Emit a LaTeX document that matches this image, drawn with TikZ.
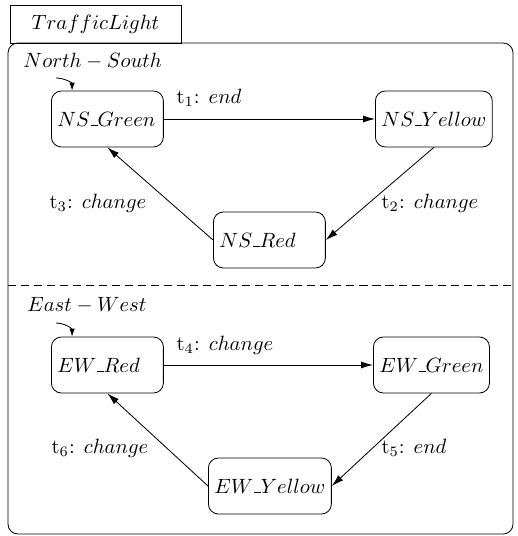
\documentclass[tikz,border=0pt]{standalone}
\usetikzlibrary{arrows.meta}
\newcommand{\us}{\kern.06em\vbox{\hrule width.3em height .5pt}}
\newcommand{\lbx}[1]{\setbox0\hbox{#1}\ifdim\wd0<48.4pt\hbox to 48.4pt{\box0\hfil}\else\box0\fi}
\begin{document}
\begin{tikzpicture}[x=0.484pt,y=-0.484pt,
  statebox/.style={draw, rounded corners=4.8pt, minimum height=27.1pt, inner xsep=2.9pt, inner ysep=0pt, anchor=west},
  tr/.style={-{Latex[length=5.8pt,width=3.4pt]}},
  lab/.style={inner sep=0pt},
  initarr/.style={-{Latex[length=3.8pt,width=2.6pt]}}]
\useasboundingbox (0,0) rectangle (518,536);
% outer container
\draw[rounded corners=4.8pt] (8,43) rectangle (513,534);
\node[draw, minimum width=82.8pt, minimum height=18.4pt, inner sep=0pt] (title) at (95.5,24) {$TrafficLight$};
\draw[dashed, dash pattern=on 3.9pt off 2.4pt] (8,285) -- (513,285);
% region labels
\node[lab, anchor=west] (nsreg) at (23,61) {$North-South$};
\node[lab, anchor=west] (ewreg) at (27,305) {$East-West$};
% states
\node[statebox] (nsg) at (51,119) {\lbx{$NS\us Green$}};
\node[statebox] (nsy) at (375,119) {\lbx{$NS\us Yellow$}};
\node[statebox] (nsr) at (213,240) {\lbx{$NS\us Red$}};
\node[statebox] (ewr) at (51,365) {\lbx{$EW\us Red$}};
\node[statebox] (ewg) at (373,365) {\lbx{$EW\us Green$}};
\node[statebox] (ewy) at (208,486) {\lbx{$EW\us Yellow$}};
% initial markers
\coordinate (i1) at (56,78);
\coordinate (i2) at (56,323);
\draw[initarr] (i1) to[out=0,in=90] ([xshift=10.2pt]nsg.north west);
\draw[initarr] (i2) to[out=0,in=90] ([xshift=10.2pt]ewr.north west);
% transitions
\draw[tr] (nsg) -- (nsy);
\draw[tr] (nsy.south) -- (nsr.east);
\draw[tr] (nsr.west) -- (nsg.south);
\draw[tr] (ewr) -- (ewg);
\draw[tr] (ewg.south) -- (ewy.east);
\draw[tr] (ewy.west) -- (ewr.south);
% labels
\node[lab] (l1) at (209,98) {t$_1$: $end$};
\node[lab] (l2) at (430,203) {t$_2$: $change$};
\node[lab] (l3) at (98,203) {t$_3$: $change$};
\node[lab] (l4) at (225,345) {t$_4$: $change$};
\node[lab] (l5) at (414,448) {t$_5$: $end$};
\node[lab] (l6) at (100,448) {t$_6$: $change$};
\end{tikzpicture}
\end{document}
